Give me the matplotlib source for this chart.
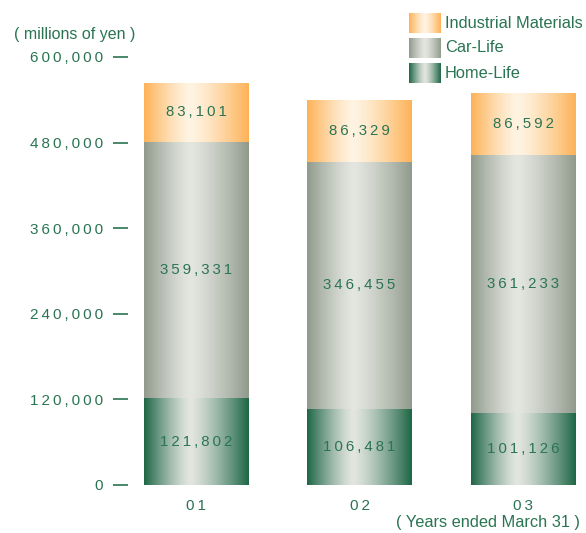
import numpy as np
import matplotlib
matplotlib.use("Agg")
import matplotlib.pyplot as plt
from matplotlib.colors import to_rgb

# Net sales by segment (millions of yen)
years = ["01", "02", "03"]
home_life = [121802, 106481, 101126]
car_life = [359331, 346455, 361233]
industrial = [83101, 86329, 86592]
segment_names = ["Industrial Materials", "Car-Life", "Home-Life"]
y_ticks = [0, 120000, 240000, 360000, 480000, 600000]

TEXT = "#2a7453"
# (edge colour, highlight colour) for each segment
GRAD = {
    "Home-Life": ("#1d6646", "#e3e6e0"),
    "Car-Life": ("#909a8c", "#e4e6e0"),
    "Industrial Materials": ("#fdb257", "#fff4e3"),
}

FONT = "Liberation Sans"
THIN = "\u2009"


def spaced(s):
    return THIN.join(s)


def gradient_image(edge, light, n=256, centre=0.44):
    t = np.linspace(0, 1, n)
    d = np.where(t < centre, (centre - t) / centre, (t - centre) / (1 - centre))
    w = 1 - d ** 1.3
    e = np.array(to_rgb(edge))
    l = np.array(to_rgb(light))
    row = e[None, :] * (1 - w[:, None]) + l[None, :] * w[:, None]
    return row[None, :, :]


W, H = 586, 533
fig = plt.figure(figsize=(W / 100, H / 100), dpi=100)
ax = fig.add_axes([128 / W, (H - 485) / H, (W - 128) / W, (485 - 57) / H])

x = np.arange(len(years))
width = 0.642
bottoms = np.zeros(len(years))
stack = [("Home-Life", home_life), ("Car-Life", car_life),
         ("Industrial Materials", industrial)]
for name, vals in stack:
    vals = np.array(vals, dtype=float)
    bars = ax.bar(x, vals, width, bottom=bottoms, facecolor="none",
                  edgecolor="none", zorder=2)
    img = gradient_image(*GRAD[name])
    for rect, v, b in zip(bars, vals, bottoms):
        x0, y0 = rect.get_x(), rect.get_y()
        im = ax.imshow(img, extent=[x0, x0 + rect.get_width(), y0, y0 + rect.get_height()],
                       aspect="auto", interpolation="bicubic", zorder=1)
        im.set_clip_path(rect)
        ax.text(x0 + rect.get_width() / 2, b + v / 2, spaced(f"{int(v):,}"),
                ha="center", va="center", color=TEXT, fontsize=10.8, family=FONT,
                zorder=3)
    bottoms += vals

ax.set_xlim(-0.416, 2.385)
ax.set_ylim(0, 600000)
for s in ax.spines.values():
    s.set_visible(False)
ax.set_yticks(y_ticks)
ax.set_yticklabels([spaced(f"{v:,}") for v in y_ticks])
ax.set_xticks(x)
ax.set_xticklabels([spaced(y) for y in years])
ax.tick_params(axis="y", length=11, width=1.2, color=TEXT, pad=7,
               labelcolor=TEXT, labelsize=11)
ax.tick_params(axis="x", length=0, pad=10, labelcolor=TEXT, labelsize=11)
for lab in ax.get_xticklabels() + ax.get_yticklabels():
    lab.set_family(FONT)

fig.text(14 / W, 1 - 35 / H, "( millions of yen )", color=TEXT, fontsize=11.5,
         family=FONT, va="center", ha="left")
fig.text(580 / W, 1 - 523 / H, "( Years ended March 31 )", color=TEXT,
         fontsize=11.8, family=FONT, va="center", ha="right")

# Legend with gradient swatches
for i, name in enumerate(segment_names):
    top = 13 + i * 25
    sax = fig.add_axes([409 / W, 1 - (top + 20) / H, 31 / W, 20 / H])
    sax.imshow(gradient_image(*GRAD[name], centre=0.5), aspect="auto",
               interpolation="bicubic", extent=[0, 1, 0, 1])
    sax.set_axis_off()
    fig.text(445 / W, 1 - (top + 10) / H, name, color=TEXT, fontsize=11.8,
             family=FONT, va="center", ha="left")

fig.savefig("out.png", dpi=100)
